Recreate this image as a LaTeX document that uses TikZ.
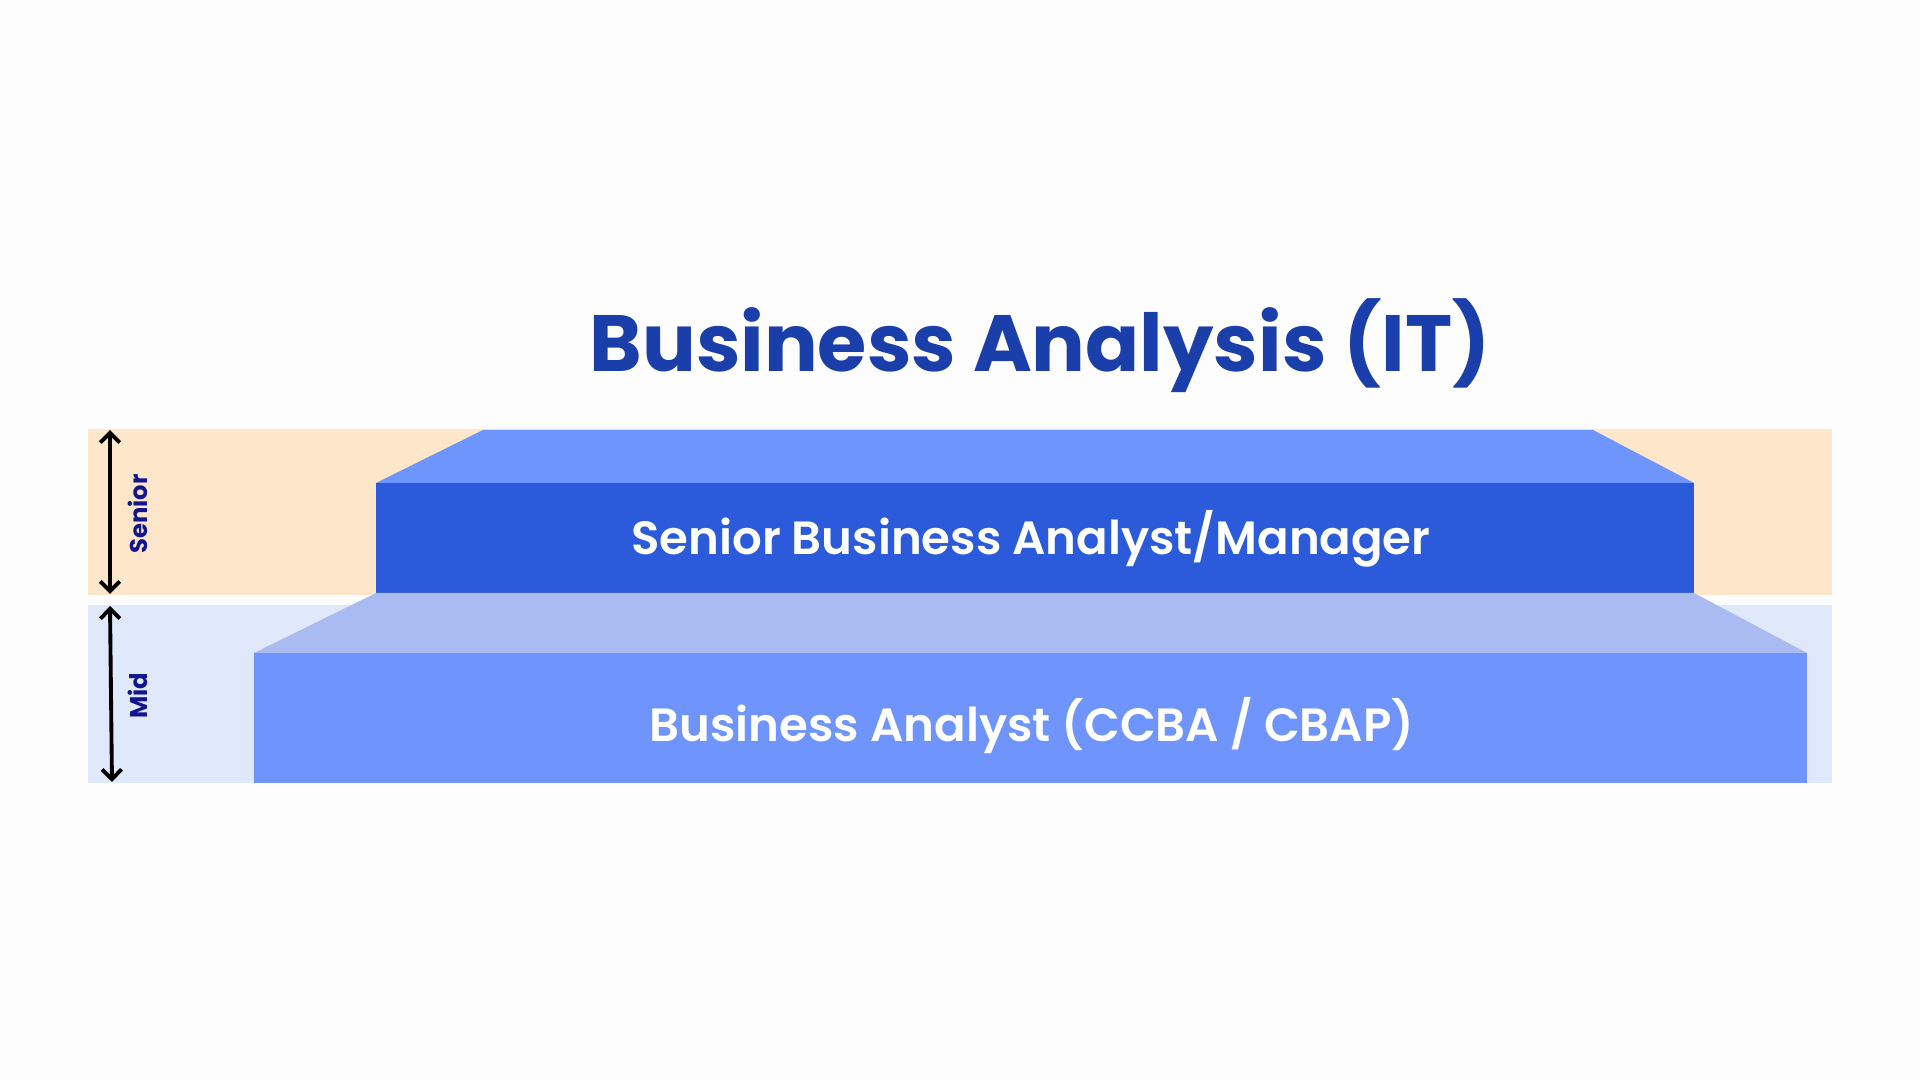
\documentclass[tikz,border=0pt]{standalone}
\usepackage{fontspec}
\setmainfont{Poppins}
\newfontfamily\semifont{Poppins SemiBold}
\usetikzlibrary{
	arrows.meta,
	positioning
}
\definecolor{colbg}{RGB}{253,253,253}
\definecolor{colsenband}{RGB}{254,230,203}
\definecolor{colmidband}{RGB}{224,232,252}
\definecolor{colsentop}{RGB}{110,149,252}
\definecolor{colsenbox}{RGB}{43,91,219}
\definecolor{colmidtop}{RGB}{170,187,242}
\definecolor{colmidbox}{RGB}{111,149,253}
\definecolor{coltitle}{RGB}{27,63,170}
\definecolor{collabel}{RGB}{18,22,140}
\tikzset{
	>={Straight Barb[length=2.8pt, width=5.5pt]},
	span/.style={<->, line width=1.1pt},
	titletext/.style={anchor=base, text=coltitle, font=\bfseries\fontsize{22.7pt}{27pt}\selectfont},
	steptext/.style={anchor=base, text=white, font=\semifont\fontsize{13.25pt}{16pt}\selectfont},
	levellabel/.style={rotate=90, text=collabel, font=\bfseries\fontsize{6.9pt}{9pt}\selectfont}
}

\begin{document}
\begin{tikzpicture}[x=0.01cm, y=-0.01cm]
	\useasboundingbox[fill=colbg] (0,0) rectangle (1920,1080);
	% level bands with their spans
	\foreach \name/\top/\bot/\col/\tilt in {Senior/429/595/colsenband/0, Mid/605/783/colmidband/2} {
		\fill[\col] (88,\top) rectangle (1832,\bot);
		\coordinate (\name-a) at (110,\top+1);
		\coordinate (\name-b) at (110+\tilt,\bot-1);
		\draw[span] (\name-a) -- (\name-b);
		\node[levellabel] (\name-lbl) at (138,{(\top+\bot)/2+2}) {\name};
	}
	% senior step
	\coordinate (sentl) at (376,483);
	\coordinate (senbr) at (1694,593);
	\fill[colsentop] (483,430) -- (1593,430) -- (sentl -| senbr) -- (sentl) -- cycle;
	\fill[colsenbox] (sentl) rectangle (senbr);
	% mid step
	\coordinate (midtl) at (254,653);
	\coordinate (midbr) at (1807,783);
	\fill[colmidtop] (376,593) -- (1694,593) -- (midtl -| midbr) -- (midtl) -- cycle;
	\fill[colmidbox] (midtl) rectangle (midbr);
	% texts
	\node[titletext] (title) at (1040,372) {Business Analysis (IT)};
	\node[steptext] (senior) at (1031,555) {Senior Business Analyst/Manager};
	\node[steptext] (mid) at (1032,742) {Business Analyst (CCBA / CBAP)};
\end{tikzpicture}
\end{document}
